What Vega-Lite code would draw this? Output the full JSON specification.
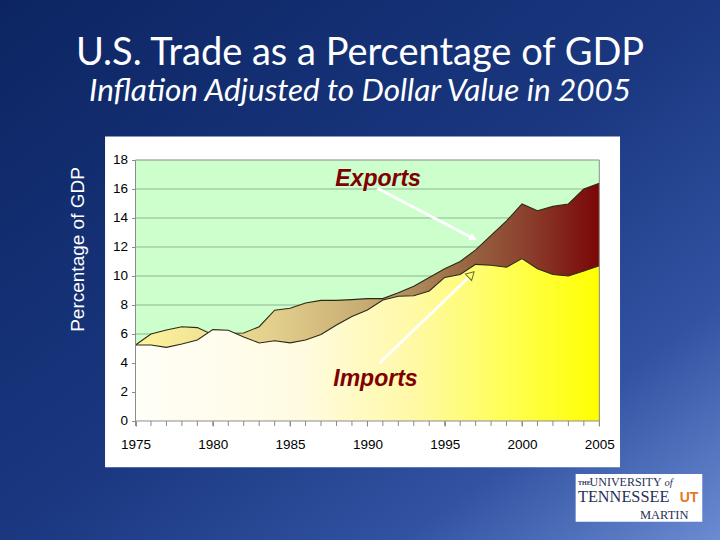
{
  "$schema": "https://vega.github.io/schema/vega-lite/v6.json",
  "width": 720,
  "height": 540,
  "autosize": {"type": "none"},
  "padding": 0,
  "background": "#1b3880",
  "config": {"axis": {"labelOverlap": false, "labelFlush": false}},
  "view": {
    "fill": {"gradient": "linear", "x1": 0, "y1": 0, "x2": 1, "y2": 1,
      "stops": [
        {"offset": 0, "color": "#0c2562"},
        {"offset": 0.5, "color": "#1a3780"},
        {"offset": 0.78, "color": "#3153a2"},
        {"offset": 1, "color": "#6b8bd2"}
      ]},
    "stroke": null
  },
  "title": {
    "text": "U.S. Trade as a Percentage of GDP",
    "subtitle": "Inflation Adjusted to Dollar Value in 2005",
    "anchor": "middle",
    "offset": -107,
    "color": "white",
    "font": "Lato",
    "fontSize": 38,
    "fontWeight": "normal",
    "subtitleColor": "white",
    "subtitleFont": "Lato",
    "subtitleFontSize": 31.5,
    "subtitleFontStyle": "italic",
    "subtitlePadding": 3
  },
  "datasets": {
    "trade": [
      {"year": 1975, "series": "Exports", "pct": 5.24},
      {"year": 1976, "series": "Exports", "pct": 6.0},
      {"year": 1977, "series": "Exports", "pct": 6.28},
      {"year": 1978, "series": "Exports", "pct": 6.5},
      {"year": 1979, "series": "Exports", "pct": 6.44},
      {"year": 1980, "series": "Exports", "pct": 5.95},
      {"year": 1981, "series": "Exports", "pct": 6.05},
      {"year": 1982, "series": "Exports", "pct": 6.07},
      {"year": 1983, "series": "Exports", "pct": 6.5},
      {"year": 1984, "series": "Exports", "pct": 7.64},
      {"year": 1985, "series": "Exports", "pct": 7.77},
      {"year": 1986, "series": "Exports", "pct": 8.14},
      {"year": 1987, "series": "Exports", "pct": 8.32},
      {"year": 1988, "series": "Exports", "pct": 8.32},
      {"year": 1989, "series": "Exports", "pct": 8.37},
      {"year": 1990, "series": "Exports", "pct": 8.44},
      {"year": 1991, "series": "Exports", "pct": 8.44},
      {"year": 1992, "series": "Exports", "pct": 8.85},
      {"year": 1993, "series": "Exports", "pct": 9.3},
      {"year": 1994, "series": "Exports", "pct": 9.9},
      {"year": 1995, "series": "Exports", "pct": 10.5},
      {"year": 1996, "series": "Exports", "pct": 11.0},
      {"year": 1997, "series": "Exports", "pct": 11.8},
      {"year": 1998, "series": "Exports", "pct": 12.8},
      {"year": 1999, "series": "Exports", "pct": 13.8},
      {"year": 2000, "series": "Exports", "pct": 14.97},
      {"year": 2001, "series": "Exports", "pct": 14.5},
      {"year": 2002, "series": "Exports", "pct": 14.8},
      {"year": 2003, "series": "Exports", "pct": 14.97},
      {"year": 2004, "series": "Exports", "pct": 16.0},
      {"year": 2005, "series": "Exports", "pct": 16.4},
      {"year": 1975, "series": "Imports", "pct": 5.24},
      {"year": 1976, "series": "Imports", "pct": 5.24},
      {"year": 1977, "series": "Imports", "pct": 5.08},
      {"year": 1978, "series": "Imports", "pct": 5.31},
      {"year": 1979, "series": "Imports", "pct": 5.59},
      {"year": 1980, "series": "Imports", "pct": 6.3},
      {"year": 1981, "series": "Imports", "pct": 6.26},
      {"year": 1982, "series": "Imports", "pct": 5.8},
      {"year": 1983, "series": "Imports", "pct": 5.38},
      {"year": 1984, "series": "Imports", "pct": 5.53},
      {"year": 1985, "series": "Imports", "pct": 5.39},
      {"year": 1986, "series": "Imports", "pct": 5.59},
      {"year": 1987, "series": "Imports", "pct": 5.96},
      {"year": 1988, "series": "Imports", "pct": 6.62},
      {"year": 1989, "series": "Imports", "pct": 7.2},
      {"year": 1990, "series": "Imports", "pct": 7.65},
      {"year": 1991, "series": "Imports", "pct": 8.34},
      {"year": 1992, "series": "Imports", "pct": 8.6},
      {"year": 1993, "series": "Imports", "pct": 8.64},
      {"year": 1994, "series": "Imports", "pct": 8.97},
      {"year": 1995, "series": "Imports", "pct": 9.9},
      {"year": 1996, "series": "Imports", "pct": 10.1},
      {"year": 1997, "series": "Imports", "pct": 10.8},
      {"year": 1998, "series": "Imports", "pct": 10.74},
      {"year": 1999, "series": "Imports", "pct": 10.6},
      {"year": 2000, "series": "Imports", "pct": 11.2},
      {"year": 2001, "series": "Imports", "pct": 10.5},
      {"year": 2002, "series": "Imports", "pct": 10.1},
      {"year": 2003, "series": "Imports", "pct": 10.0},
      {"year": 2004, "series": "Imports", "pct": 10.34},
      {"year": 2005, "series": "Imports", "pct": 10.7}
    ],
    "grid": [{"g": 2}, {"g": 4}, {"g": 6}, {"g": 8}, {"g": 10}, {"g": 12}, {"g": 14}, {"g": 16}],
    "deco": [{"part": "one"}]
  },
  "layer": [
    {
      "data": {"name": "deco"},
      "mark": {"type": "rect", "fill": "#ffffff", "opacity": 1},
      "encoding": {
        "x": {"datum": 1973.03, "type": "quantitative",
          "scale": {"domain": [1966.235, 2012.807], "nice": false, "zero": false},
          "axis": {
            "orient": "bottom", "offset": -119, "title": null, "grid": false, "domain": false,
            "values": [1975, 1980, 1985, 1990, 1995, 2000, 2005],
            "format": "d",
            "tickSize": 5, "tickColor": "#8a8a8a", "tickWidth": 1,
            "labelPadding": 11, "labelFont": "Liberation Sans", "labelFontSize": 13.5,
            "labelColor": "#000000", "labelOverlap": false, "labelFlush": false, "zindex": 1
          }},
        "x2": {"datum": 2006.34},
        "y": {"datum": 19.62, "type": "quantitative",
          "scale": {"domain": [-8.207, 29.034], "nice": false, "zero": false},
          "axis": {
            "orient": "left", "offset": -135.5, "title": null, "grid": false, "domain": false,
            "values": [0, 2, 4, 6, 8, 10, 12, 14, 16, 18],
            "format": "d",
            "tickSize": 4, "tickColor": "#8a8a8a", "tickWidth": 1,
            "labelPadding": 4, "labelFont": "Liberation Sans", "labelFontSize": 13.5,
            "labelColor": "#000000", "labelOverlap": false, "labelFlush": false, "zindex": 1
          }},
        "y2": {"datum": -3.193}
      }
    },
    {
      "data": {"name": "deco"},
      "mark": {"type": "rect", "fill": "#ccffcc", "opacity": 1},
      "encoding": {
        "x": {"datum": 1975, "type": "quantitative"}, "x2": {"datum": 2005},
        "y": {"datum": 18, "type": "quantitative"}, "y2": {"datum": 0}
      }
    },
    {
      "data": {"name": "grid"},
      "mark": {"type": "rule", "color": "#93b593", "strokeWidth": 1},
      "encoding": {
        "x": {"datum": 1975, "type": "quantitative"}, "x2": {"datum": 2005},
        "y": {"field": "g", "type": "quantitative"}
      }
    },
    {
      "data": {"name": "trade"},
      "transform": [{"filter": "datum.series === 'Exports'"}],
      "mark": {"type": "rule", "color": "#8a8a8a", "strokeWidth": 1},
      "encoding": {
        "x": {"field": "year", "type": "quantitative"},
        "y": {"datum": 0, "type": "quantitative"},
        "y2": {"datum": -0.345}
      }
    },
    {
      "data": {"name": "trade"},
      "transform": [{"filter": "datum.series === 'Exports'"}],
      "mark": {
        "type": "area",
        "opacity": 1,
        "fillOpacity": 1,
        "fill": {"gradient": "linear", "x1": 0, "y1": 0, "x2": 1, "y2": 0,
          "stops": [
            {"offset": 0, "color": "#fff59c"},
            {"offset": 0.3, "color": "#e2cf8c"},
            {"offset": 0.5, "color": "#c6aa72"},
            {"offset": 0.7, "color": "#9a6a44"},
            {"offset": 0.85, "color": "#8a3e2c"},
            {"offset": 1, "color": "#7a0606"}
          ]},
        "line": {"color": "#2b2a16", "strokeWidth": 1.1}
      },
      "encoding": {
        "x": {"field": "year", "type": "quantitative"},
        "y": {"field": "pct", "type": "quantitative"},
        "y2": {"datum": 0}
      }
    },
    {
      "data": {"name": "trade"},
      "transform": [{"filter": "datum.series === 'Imports'"}],
      "mark": {
        "type": "area",
        "opacity": 1,
        "fillOpacity": 1,
        "fill": {"gradient": "linear", "x1": 0, "y1": 0, "x2": 1, "y2": 0,
          "stops": [
            {"offset": 0, "color": "#fffef8"},
            {"offset": 0.35, "color": "#fffbe2"},
            {"offset": 0.6, "color": "#fff9a6"},
            {"offset": 0.8, "color": "#ffff55"},
            {"offset": 1, "color": "#ffff00"}
          ]},
        "line": {"color": "#2b2a16", "strokeWidth": 1.1}
      },
      "encoding": {
        "x": {"field": "year", "type": "quantitative"},
        "y": {"field": "pct", "type": "quantitative"},
        "y2": {"datum": 0}
      }
    },
    {
      "data": {"name": "deco"},
      "mark": {"type": "rect", "fill": "transparent", "stroke": "#8c8c8c", "strokeWidth": 1},
      "encoding": {
        "x": {"datum": 1975, "type": "quantitative"}, "x2": {"datum": 2005},
        "y": {"datum": 18, "type": "quantitative"}, "y2": {"datum": 0}
      }
    },
    {
      "data": {"name": "deco"},
      "mark": {"type": "rule", "color": "#ffffff", "strokeWidth": 3},
      "encoding": {
        "x": {"datum": 1990.64, "type": "quantitative"}, "x2": {"datum": 1996.8},
        "y": {"datum": 16.05, "type": "quantitative"}, "y2": {"datum": 12.62}
      }
    },
    {
      "data": {"name": "deco"},
      "mark": {"type": "point", "shape": "triangle-up", "filled": true, "color": "#ffffff", "size": 70, "angle": 117.5, "opacity": 1},
      "encoding": {"x": {"datum": 1996.85, "type": "quantitative"}, "y": {"datum": 12.6, "type": "quantitative"}}
    },
    {
      "data": {"name": "deco"},
      "mark": {"type": "rule", "color": "#ffffff", "strokeWidth": 3},
      "encoding": {
        "x": {"datum": 1990.77, "type": "quantitative"}, "x2": {"datum": 1996.7},
        "y": {"datum": 3.98, "type": "quantitative"}, "y2": {"datum": 10.07}
      }
    },
    {
      "data": {"name": "deco"},
      "mark": {"type": "point", "shape": "triangle-up", "filled": true, "fill": "#ffff66", "stroke": "#6b6b3a", "strokeWidth": 1, "size": 80, "angle": 45.9, "opacity": 1},
      "encoding": {"x": {"datum": 1996.72, "type": "quantitative"}, "y": {"datum": 10.1, "type": "quantitative"}}
    },
    {
      "data": {"name": "deco"},
      "mark": {"type": "text", "text": "Exports", "font": "Liberation Sans", "fontSize": 23, "fontWeight": "bold", "fontStyle": "italic", "color": "#800000", "align": "center", "baseline": "alphabetic"},
      "encoding": {"x": {"datum": 1990.69, "type": "quantitative"}, "y": {"datum": 16.21, "type": "quantitative"}}
    },
    {
      "data": {"name": "deco"},
      "mark": {"type": "text", "text": "Imports", "font": "Liberation Sans", "fontSize": 23, "fontWeight": "bold", "fontStyle": "italic", "color": "#800000", "align": "center", "baseline": "alphabetic"},
      "encoding": {"x": {"datum": 1990.52, "type": "quantitative"}, "y": {"datum": 2.41, "type": "quantitative"}}
    },
    {
      "data": {"name": "deco"},
      "mark": {"type": "text", "text": "Percentage of GDP", "font": "Liberation Sans", "fontSize": 19, "color": "#ffffff", "angle": 270, "align": "center", "baseline": "alphabetic"},
      "encoding": {"x": {"datum": 1971.68, "type": "quantitative"}, "y": {"datum": 11.83, "type": "quantitative"}}
    },
    {
      "data": {"name": "deco"},
      "mark": {"type": "rect", "fill": "#ffffff", "opacity": 1},
      "encoding": {
        "x": {"datum": 2003.47, "type": "quantitative"}, "x2": {"datum": 2011.66},
        "y": {"datum": -3.655, "type": "quantitative"}, "y2": {"datum": -6.945}
      }
    },
    {
      "data": {"name": "deco"},
      "mark": {"type": "text", "text": "THE", "font": "Liberation Serif", "fontSize": 6, "fontWeight": "bold", "color": "#283056", "align": "left", "baseline": "alphabetic"},
      "encoding": {"x": {"datum": 2003.62, "type": "quantitative"}, "y": {"datum": -4.4, "type": "quantitative"}}
    },
    {
      "data": {"name": "deco"},
      "mark": {"type": "text", "text": "UNIVERSITY", "font": "Liberation Serif", "fontSize": 12, "color": "#283056", "align": "left", "baseline": "alphabetic"},
      "encoding": {"x": {"datum": 2004.37, "type": "quantitative"}, "y": {"datum": -4.48, "type": "quantitative"}}
    },
    {
      "data": {"name": "deco"},
      "mark": {"type": "text", "text": "of", "font": "Liberation Serif", "fontSize": 10.5, "fontStyle": "italic", "color": "#283056", "align": "left", "baseline": "alphabetic"},
      "encoding": {"x": {"datum": 2009.22, "type": "quantitative"}, "y": {"datum": -4.48, "type": "quantitative"}}
    },
    {
      "data": {"name": "deco"},
      "mark": {"type": "text", "text": "TENNESSEE", "font": "Liberation Serif", "fontSize": 16.3, "color": "#283056", "align": "left", "baseline": "alphabetic"},
      "encoding": {"x": {"datum": 2003.62, "type": "quantitative"}, "y": {"datum": -5.62, "type": "quantitative"}}
    },
    {
      "data": {"name": "deco"},
      "mark": {"type": "text", "text": "UT", "font": "Liberation Sans", "fontSize": 14, "fontWeight": "bold", "color": "#e87722", "align": "left", "baseline": "alphabetic"},
      "encoding": {"x": {"datum": 2010.2, "type": "quantitative"}, "y": {"datum": -5.62, "type": "quantitative"}}
    },
    {
      "data": {"name": "deco"},
      "mark": {"type": "text", "text": "MARTIN", "font": "Liberation Serif", "fontSize": 12.5, "color": "#283056", "align": "left", "baseline": "alphabetic"},
      "encoding": {"x": {"datum": 2007.63, "type": "quantitative"}, "y": {"datum": -6.76, "type": "quantitative"}}
    }
  ]
}
